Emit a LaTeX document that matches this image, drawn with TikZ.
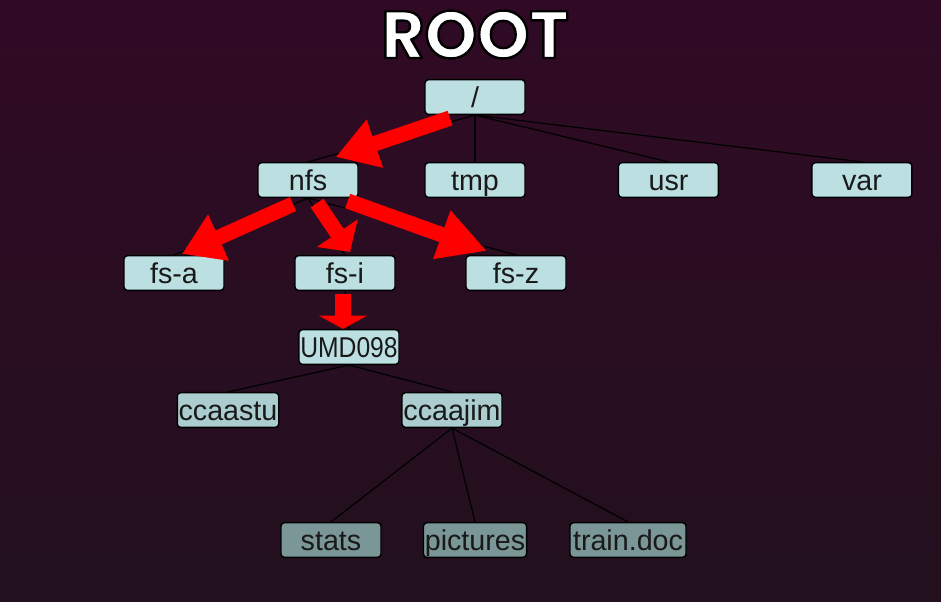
\documentclass[tikz,border=0pt]{standalone}
\usepackage{fontspec}
\setmainfont{Liberation Sans}
\newfontfamily\titlefont{Poppins}
\usetikzlibrary{arrows.meta,calc,positioning}
\definecolor{bgtop}{HTML}{300A24}
\definecolor{bgbot}{HTML}{22101E}
\definecolor{boxfill}{HTML}{BCDFE2}
\definecolor{boxmid}{HTML}{ABCDD0}
\definecolor{boxlow}{HTML}{7A9696}
\definecolor{arrowred}{HTML}{FF0000}
\newcommand{\rimtext}[1]{\special{pdf:literal direct 2 Tr 1.8 w 0 G 1 j}#1\special{pdf:literal direct 0 Tr}}
\tikzset{
	dir/.style={draw=black, line width=1.1pt, fill=boxfill, rounded corners=2.5pt,
		minimum width=75pt, minimum height=26pt, inner sep=1pt,
		text height=16pt, text depth=1pt,
		font=\fontsize{21.5}{24}\selectfont, text=black!90},
	dir mid/.style={dir, fill=boxmid},
	dir low/.style={dir, fill=boxlow},
	narrow/.style={font=\fontsize{21.5}{24}\selectfont\addfontfeature{FakeStretch=0.86}},
	branch/.style={draw=black, line width=0.9pt},
	hop/.style={draw=arrowred, line width=11.5pt, -{Triangle[length=#1, width=36pt]}},
	hop/.default=30pt,
	heading/.style={anchor=base, text=white, font=\titlefont\bfseries\fontsize{50}{52}\selectfont}
}

\begin{document}
\begin{tikzpicture}[x=0.75pt, y=-0.75pt]
  \useasboundingbox (0,0) rectangle (941,601);
  \shade[top color=bgtop, bottom color=bgbot] (0,0) rectangle (941,601);

  \node[heading] (title) at (475,58) {\rimtext{ROOT}};

  \node[dir] (root) at (475,97) {/};
  \node[dir] (nfs) at (308,180) {nfs};
  \node[dir] (tmp) at (475,180) {tmp};
  \node[dir, right=69pt of tmp] (usr) {usr};
  \node[dir, right=69pt of usr] (var) {var};
  \node[dir] (fsa) at (174,273) {fs-a};
  \node[dir] (fsi) at (345,273) {fs-i};
  \node[dir] (fsz) at (516,273) {fs-z};
  \node[dir, narrow] (umd) at (349,347) {UMD098};
  \node[dir mid] (ccaastu) at (228,410) {ccaastu};
  \node[dir mid] (ccaajim) at (452,410) {ccaajim};
  \node[dir low] (stats) at (331,540) {stats};
  \node[dir low] (pictures) at (475,540) {pictures};
  \node[dir low, minimum width=87pt] (traindoc) at (628,540) {train.doc};

  \foreach \c in {nfs,tmp,usr,var}
    \draw[branch] (root.south) -- (\c.north);
  \foreach \c in {fsa,fsi,fsz}
    \draw[branch] (nfs.south) -- (\c.north);
  \draw[branch] (fsi.south) -- (umd.north);
  \foreach \c in {ccaastu,ccaajim}
    \draw[branch] (umd.south) -- (\c.north);
  \foreach \c in {stats,pictures,traindoc}
    \draw[branch] (ccaajim.south) -- (\c.north);

  % path to fs-i
  \draw[hop=31pt] ($(root.south)+(-25,3)$) -- ($(nfs.north east)+(-23,-5)$);
  \draw[hop=30pt] ($(nfs.south)+(-15,6)$) -- ($(fsa.north)+(8,-1)$);
  \draw[hop=17pt] ($(nfs.south)+(9,5)$) -- ($(fsi.north)+(5,-3)$);
  \draw[hop=36pt] ($(nfs.south east)+(-11,3)$) -- ($(fsz.north)+(-29,-4)$);
  \draw[hop=10pt] ($(fsi.south)+(-2,3)$) -- ($(umd.north)+(-6,0)$);
\end{tikzpicture}
\end{document}
